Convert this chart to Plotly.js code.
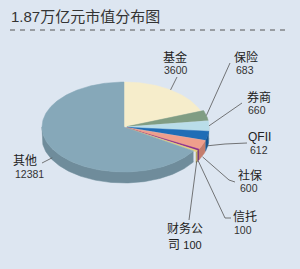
<!DOCTYPE html>
<html>
<head>
<meta charset="utf-8">
<script src="https://cdn.plot.ly/plotly-3.0.1.min.js"></script>
<style>html,body{margin:0;padding:0;background:#dde6f1;}#chart{width:300px;height:269px;}</style>
</head>
<body>
<div id="chart"></div>
<script>
// ---- data ----
const categories = ['基金','保险','券商','QFII','社保','信托','财务公司','其他'];
const values = [3600, 683, 660, 612, 600, 100, 100, 12381];
const titleText = '1.87万亿元市值分布图';

// ---- style ----
const topColors  = ['#f6edcb','#809d83','#b9dde9','#1f6db6','#ef9f8c','#8e2c8a','#e6d27d','#86a8b9'];
const sideColors = ['#c9bf9c','#667f69','#93b5c1','#175690','#c47c6c','#6e1f6b','#bba85e','#6f8c9b'];
const pulls = [0, 3, 3, 3, 3, 3, 3, 0];
const cx = 124, cy = 127, rx = 82, ry = 45, depth = 11;
const bg = '#dde6f1';
const fontFam = 'Liberation Sans, Arial, Noto Sans CJK SC, sans-serif';

// label layout: name pos, value pos, leader path (label end side), anchor drop
const nameLabelPos = [[175,57],[246,57],[259,97],[259,137],[250,175],[245,217],[184.5,228.5],[25,161]];
const valueLabelPos = [[176,70],[245,70],[257,110],[259,150],[249,188],[243,230],[184.5,244.5],[29,174]];
const leaderEnds = [[[177,77]],[[230,63]],[[242,103]],[[247,143],[225,144]],[[235,182],[229,180]],[[231,218],[225,218]],[[189,220]],[[42,163]]];
const anchorDrop = [0,0,0,10,12,11,10,9];

const total = values.reduce((a,b)=>a+b,0);
const rad = d => d*Math.PI/180;
function pt(th, ox, oy, dd){ return [cx+ox+rx*Math.sin(rad(th)), cy+oy-ry*Math.cos(rad(th))+(dd||0)]; }

const slices = [];
let acc = 0;
values.forEach((v,i)=>{
  const a0 = acc/total*360; acc += v; const a1 = acc/total*360;
  const mid = (a0+a1)/2;
  const ox = pulls[i]*Math.sin(rad(mid)), oy = -pulls[i]*Math.cos(rad(mid))*ry/rx;
  slices.push({a0,a1,mid,ox,oy});
});

const traces = [];
// sides
slices.forEach((s,i)=>{
  const lo = Math.max(s.a0,90), hi = Math.min(s.a1,270);
  if (lo >= hi) return;
  const xs=[], ys=[];
  const step = Math.min(1,(hi-lo)/4);
  for (let t=lo; t<=hi+1e-9; t+=step) { const p=pt(t,s.ox,s.oy,0); xs.push(p[0]); ys.push(p[1]); }
  { const p=pt(hi,s.ox,s.oy,0); xs.push(p[0]); ys.push(p[1]); }
  for (let t=hi; t>=lo-1e-9; t-=step) { const p=pt(t,s.ox,s.oy,depth); xs.push(p[0]); ys.push(p[1]); }
  { const p=pt(lo,s.ox,s.oy,depth); xs.push(p[0]); ys.push(p[1]); }
  traces.push({type:'scatter',mode:'lines',x:xs,y:ys,fill:'toself',fillcolor:sideColors[i],
    line:{color:sideColors[i],width:0.5},hoverinfo:'skip'});
});
// tops
slices.forEach((s,i)=>{
  const xs=[cx+s.ox], ys=[cy+s.oy];
  const step = Math.min(1,(s.a1-s.a0)/4);
  for (let t=s.a0; t<=s.a1+1e-9; t+=step) { const p=pt(t,s.ox,s.oy,0); xs.push(p[0]); ys.push(p[1]); }
  { const p=pt(s.a1,s.ox,s.oy,0); xs.push(p[0]); ys.push(p[1]); }
  xs.push(cx+s.ox); ys.push(cy+s.oy);
  traces.push({type:'scatter',mode:'lines',x:xs,y:ys,fill:'toself',fillcolor:topColors[i],
    line:{color:topColors[i],width:0.5},hoverinfo:'skip'});
});
// leader lines
slices.forEach((s,i)=>{
  const a = pt(s.mid,s.ox,s.oy,anchorDrop[i]);
  const path = leaderEnds[i].concat([a]);
  traces.push({type:'scatter',mode:'lines',x:path.map(p=>p[0]),y:path.map(p=>p[1]),
    line:{color:'#555',width:0.8},hoverinfo:'skip'});
});

const annotations = [];
categories.forEach((c,i)=>{
  if (c === '财务公司') {
    annotations.push({x:nameLabelPos[i][0],y:nameLabelPos[i][1],xref:'x',yref:'y',showarrow:false,
      text:c.slice(0,3),font:{family:fontFam,size:12,color:'#222'},xanchor:'center',yanchor:'middle'});
    annotations.push({x:valueLabelPos[i][0],y:valueLabelPos[i][1],xref:'x',yref:'y',showarrow:false,
      text:c.slice(3)+' <span style="font-size:11px">'+values[i]+'</span>',font:{family:fontFam,size:12,color:'#222'},xanchor:'center',yanchor:'middle'});
  } else {
    annotations.push({x:nameLabelPos[i][0],y:nameLabelPos[i][1],xref:'x',yref:'y',showarrow:false,
      text:c,font:{family:fontFam,size:12,color:'#222'},xanchor:'center',yanchor:'middle'});
    annotations.push({x:valueLabelPos[i][0],y:valueLabelPos[i][1],xref:'x',yref:'y',showarrow:false,
      text:String(values[i]),font:{family:fontFam,size:10.5,color:'#333'},xanchor:'center',yanchor:'middle'});
  }
});

const layout = {
  width:300, height:269,
  margin:{l:0,r:0,t:0,b:0,pad:0},
  paper_bgcolor:bg, plot_bgcolor:bg,
  showlegend:false, hovermode:false,
  title:{text:titleText, x:11/300, xref:'container', xanchor:'left', y:1-16.5/269, yref:'container', yanchor:'middle',
    font:{family:fontFam,size:15,color:'#333'}},
  xaxis:{range:[0,300],visible:false,fixedrange:true},
  yaxis:{range:[269,0],visible:false,fixedrange:true},
  shapes:[{type:'line',xref:'x',yref:'y',x0:10,x1:290,y0:30,y1:30,line:{color:'#555',width:1,dash:'5px,5px'}}],
  annotations:annotations
};
Plotly.newPlot('chart', traces, layout, {staticPlot:true, displayModeBar:false});
</script>
</body>
</html>
